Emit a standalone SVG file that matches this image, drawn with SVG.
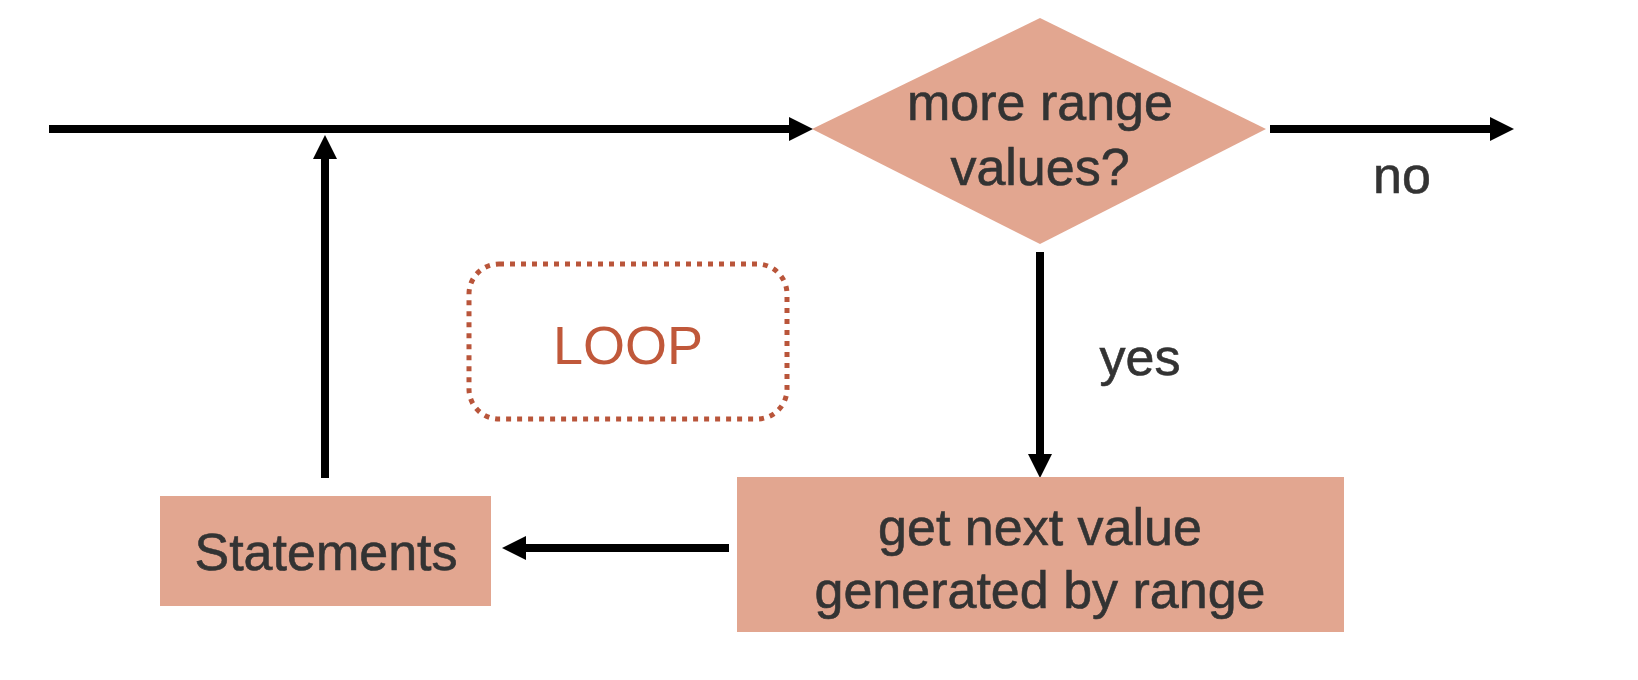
<svg xmlns="http://www.w3.org/2000/svg" width="1638" height="680" viewBox="0 0 1638 680">
<defs>
<style>
.node{fill:#e2a690;}
.t{font-family:"Liberation Sans",Arial,sans-serif;font-size:52px;fill:#333;stroke:#333;stroke-width:0.6;text-anchor:middle;}
.c{stroke:#000;stroke-width:8;fill:none;}
.loop{fill:none;stroke:#b9553a;stroke-width:5;stroke-dasharray:5 6;}
</style>
<marker id="ah" viewBox="0 0 10 10" refX="0" refY="5" markerWidth="3" markerHeight="3" markerUnits="strokeWidth" orient="auto">
<path d="M0,0 L10,5 L0,10 z" fill="#000"/>
</marker>
</defs>
<rect width="1638" height="680" fill="#fff"/>
<g id="connectors">
<line class="c" x1="49" y1="129" x2="789" y2="129" marker-end="url(#ah)"/>
<line class="c" x1="1270" y1="129" x2="1490" y2="129" marker-end="url(#ah)"/>
<line class="c" x1="1040" y1="252" x2="1040" y2="454" marker-end="url(#ah)"/>
<line class="c" x1="729" y1="548" x2="526" y2="548" marker-end="url(#ah)"/>
<line class="c" x1="325" y1="478" x2="325" y2="159" marker-end="url(#ah)"/>
</g>
<g id="decision">
<polygon class="node" points="812,129 1040,18 1266,129 1040,244"/>
<text class="t" x="1040" y="120">more range</text>
<text class="t" x="1040" y="185">values?</text>
</g>
<g id="next">
<rect class="node" x="737" y="477" width="607" height="155"/>
<text class="t" x="1040" y="545">get next value</text>
<text class="t" x="1040" y="608">generated by range</text>
</g>
<g id="statements">
<rect class="node" x="160" y="496" width="331" height="110"/>
<text class="t" x="326" y="570">Statements</text>
</g>
<g id="loop">
<rect class="loop" x="469" y="264" width="318" height="155" rx="30"/>
<text x="628" y="364" style="font-family:'Liberation Sans',Arial,sans-serif;fill:#c0583a;font-size:54px;text-anchor:middle">LOOP</text>
</g>
<g id="labels">
<text class="t" x="1402" y="193">no</text>
<text class="t" x="1140" y="375">yes</text>
</g>
</svg>
